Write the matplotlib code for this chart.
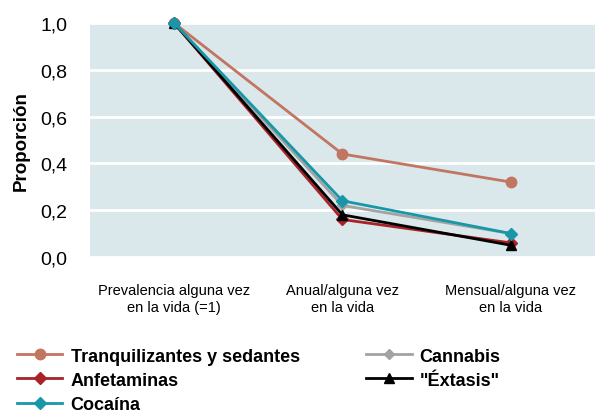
import matplotlib
matplotlib.use("Agg")
import matplotlib.pyplot as plt
from matplotlib.ticker import FuncFormatter

categorias = ["Prevalencia alguna vez\nen la vida (=1)",
              "Anual/alguna vez\nen la vida",
              "Mensual/alguna vez\nen la vida"]

tranquilizantes = [1.0, 0.44, 0.32]
cannabis = [1.0, 0.22, 0.10]
anfetaminas = [1.0, 0.16, 0.06]
extasis = [1.0, 0.18, 0.05]
cocaina = [1.0, 0.24, 0.10]

series = [
    ("Tranquilizantes y sedantes", tranquilizantes, "#c27560", "o", 7.5),
    ("Cannabis", cannabis, "#a3a3a3", "D", 5),
    ("Anfetaminas", anfetaminas, "#a82228", "D", 6),
    ('"Éxtasis"', extasis, "#000000", "^", 7),
    ("Cocaína", cocaina, "#1797a8", "D", 6),
]

plt.rcParams['font.family'] = ['Liberation Sans', 'DejaVu Sans']

fig = plt.figure(figsize=(5.95, 4.14), dpi=100)
ax = fig.add_axes([0.151, 0.377, 0.849, 0.565])
ax.set_facecolor("#dae8ec")

x = list(range(len(categorias)))
for nombre, valores, color, marca, ms in series:
    ax.plot(x, valores, color=color, marker=marca, markersize=ms,
            linewidth=2, label=nombre, clip_on=False, zorder=3)

ax.set_xlim(-0.5, 2.5)
ax.set_ylim(0, 1.0)
ax.set_yticks([0, 0.2, 0.4, 0.6, 0.8, 1.0])
ax.yaxis.set_major_formatter(FuncFormatter(lambda v, p: f"{v:.1f}".replace(".", ",")))
ax.set_xticks(x)
ax.set_xticklabels(categorias, fontsize=10.5)
ax.tick_params(axis="y", labelsize=14, length=0, pad=16)
ax.tick_params(axis="x", length=0, pad=19)
ax.grid(axis="y", color="white", linewidth=2)
ax.set_axisbelow(True)
for s in ax.spines.values():
    s.set_visible(False)
ax.set_ylabel("Proporción", fontsize=13.5, fontweight="bold")
ax.yaxis.set_label_coords(-0.118, 0.5)

handles, labels = ax.get_legend_handles_labels()
order = [0, 2, 4, 1, 3]
leg = fig.legend([handles[i] for i in order], [labels[i] for i in order],
                 ncol=2, loc="upper left", bbox_to_anchor=(0.029, 0.158),
                 frameon=False, prop={"size": 13, "weight": "bold"},
                 handlelength=2.5, handletextpad=0.45, columnspacing=3.7,
                 labelspacing=0.4, borderaxespad=0, borderpad=0)

fig.savefig("out.png", dpi=100)
